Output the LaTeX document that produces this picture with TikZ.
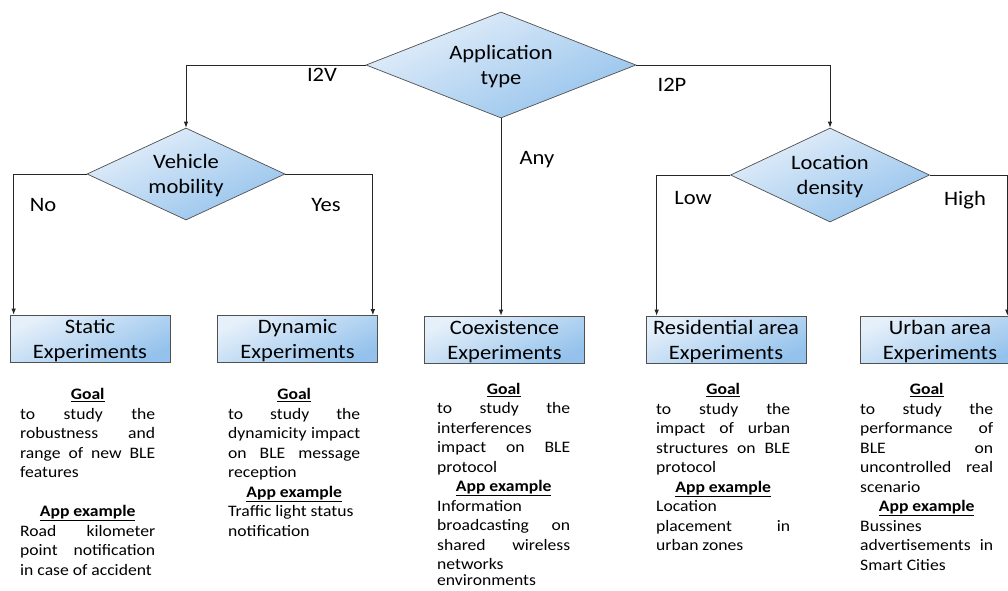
\documentclass[tikz,border=0pt]{standalone}
\usepackage{fontspec}
\setmainfont{Carlito}[FakeStretch=1.1]
\usetikzlibrary{shapes.geometric,arrows.meta,calc}
\definecolor{boxlight}{HTML}{E6F0FA}
\definecolor{boxdark}{HTML}{94C2EC}
\definecolor{edgegray}{HTML}{505050}
\newcommand\boxfont{\fontsize{20.5}{25}\selectfont}
\newcommand\bodyfont{\fontsize{16}{19.5}\selectfont}
\newcommand\heading[1]{\par\centerline{\underline{\textbf{#1}}}}
\tikzset{
  shaded/.style={draw=edgegray, line width=0.7pt, top color=boxlight, bottom color=boxdark, shading angle=25},
  decision/.style={shaded, diamond, inner sep=0pt, align=center, font=\boxfont, text depth=0pt},
  expbox/.style={shaded, rectangle, inner sep=1pt, align=center, font=\boxfont, text depth=0pt, minimum width=160pt, minimum height=47pt},
  textblock/.style={inner sep=0pt, anchor=north west, align=justify, font=\bodyfont},
  lbl/.style={inner sep=0pt, font=\boxfont},
  link/.style={draw=black!85, line width=0.8pt, -{Latex[length=6pt,width=4.5pt]}}
}
\hbadness=10000
\begin{document}
\begin{tikzpicture}[x=1pt,y=-1pt]
\useasboundingbox (0,0) rectangle (1008,590);
\fill[white] (0,0) rectangle (1008,590);
\clip (0,0) rectangle (1008,590);
% decisions
\node[decision, aspect=2.55, minimum width=270pt, minimum height=106pt] (app) at (501,65) {Application\\type};
\node[decision, aspect=2.15, minimum width=198pt, minimum height=92pt] (veh) at (186,174) {Vehicle\\mobility};
\node[decision, aspect=2.12, minimum width=199pt, minimum height=94pt] (loc) at (830,175) {Location\\density};
% experiment boxes
\node[expbox] (static) at (90,338.5) {Static\\Experiments};
\node[expbox] (dyn) at (297.5,339) {Dynamic\\Experiments};
\node[expbox] (coex) at (504.5,339.5) {Coexistence\\Experiments};
\node[expbox] (res) at (726,339.5) {Residential area\\Experiments};
\node[expbox] (urban) at (940,339.5) {Urban area\\Experiments};
% branches
\draw[link] (app.west) -| (veh.north);
\draw[link] (app.east) -| (loc.north);
\draw[link] (app.south) -- (app.south |- coex.north);
\draw[link] (veh.west) -| ([xshift=4pt]static.north west);
\draw[link] (veh.east) -| ([xshift=-5pt]dyn.north east);
\draw[link] (loc.west) -| ([xshift=11pt]res.north west);
\draw[link] (loc.east) -| ([xshift=-13pt]urban.north east);
\node[lbl] (i2v) at (322,75) {I2V};
\node[lbl] (i2p) at (672,85) {I2P};
\node[lbl] (any) at (537,160) {Any};
\node[lbl] (no) at (43,205) {No};
\node[lbl] (yes) at (326,205) {Yes};
\node[lbl] (low) at (693,198) {Low};
\node[lbl] (high) at (965,200) {High};
% descriptions
\node[textblock, text width=135pt] (txtstatic) at (20,380) {%
\heading{Goal}
to study the\linebreak robustness and\linebreak range of new BLE\linebreak features\par
\vskip19.5pt
\heading{App example}
Road kilometer\linebreak point notification\linebreak in case of accident};
\node[textblock, text width=132pt] (txtdyn) at (228,380) {%
\heading{Goal}
to study the\linebreak dynamicity impact\linebreak on BLE message\linebreak reception
\heading{App example}
Traffic light status\\ notification};
\node[textblock, text width=133pt] (txtcoex) at (437,374.5) {%
\heading{Goal}
to study the\linebreak interferences\\ impact on BLE\linebreak protocol
\heading{App example}
Information\\ broadcasting on\linebreak shared wireless\linebreak networks\\[-4pt] environments};
\node[textblock, text width=134pt] (txtres) at (656,375) {%
\heading{Goal}
to study the\linebreak impact of urban\linebreak structures on BLE\linebreak protocol
\heading{App example}
Location\\ placement in\linebreak urban zones};
\node[textblock, text width=133pt] (txturban) at (860,375) {%
\heading{Goal}
to study the\linebreak performance of\linebreak BLE on\linebreak uncontrolled real\linebreak scenario
\heading{App example}
Bussines\\ advertisements in\linebreak Smart Cities};
\end{tikzpicture}
\end{document}
